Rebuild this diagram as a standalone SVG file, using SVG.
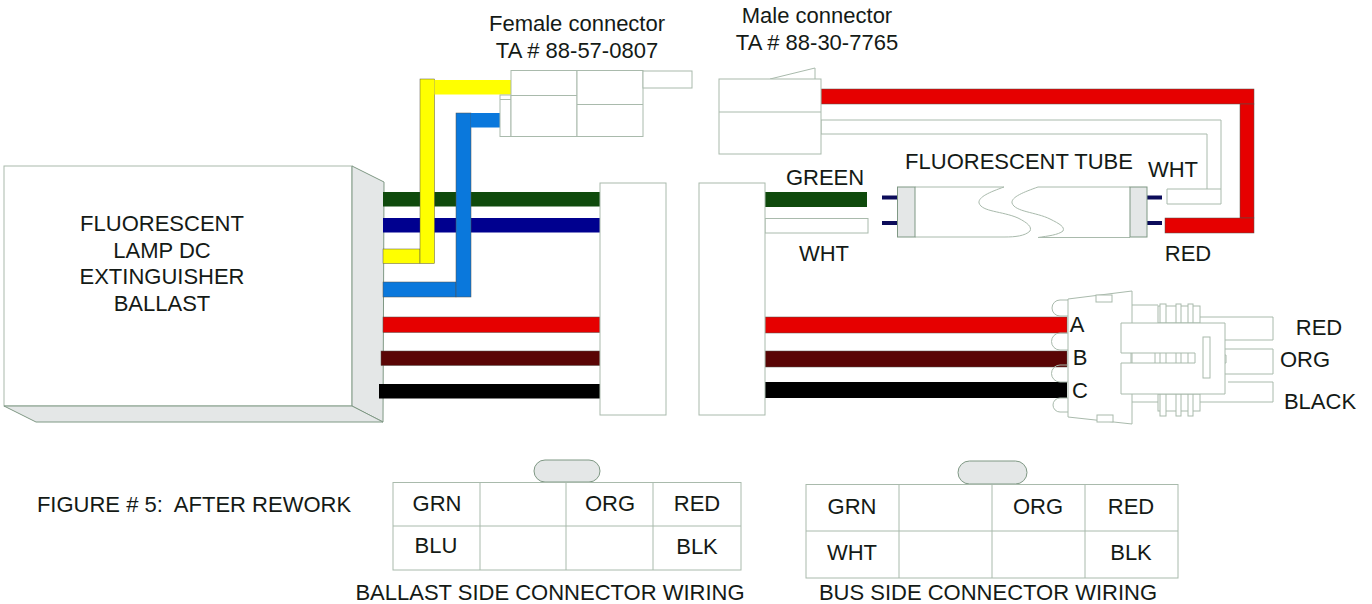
<svg xmlns="http://www.w3.org/2000/svg" width="1372" height="604" viewBox="0 0 1372 604">
<style>
text{font-family:"Liberation Sans",Arial,sans-serif;font-size:22px;fill:#141a16;text-anchor:middle;white-space:pre}
.o{fill:#fff;stroke:#a9baac;stroke-width:1}
.n{fill:none;stroke:#a9baac;stroke-width:1}
.g{fill:#e4e7e7;stroke:#7f9884;stroke-width:1}
.w{stroke:#55504a;stroke-width:.5}
.gn{fill:#0f4a0c}.bl{fill:#00008f}.ye{fill:#ffff00}.lb{fill:#0a78dc}.rd{fill:#e60000}.br{fill:#5a0505}.bk{fill:#000}
.pin{fill:#0c0c5a}
</style>
<rect width="1372" height="604" fill="#fff"/>
<g id="ballast">
<rect class="o" x="4" y="166" width="348" height="240"/>
<polygon class="g" points="352,166 384,182 383,422 352,406"/>
<polygon class="g" points="4,406 352,406 383,422 36,422"/>
<text x="162" y="231">FLUORESCENT</text>
<text x="162" y="258">LAMP DC</text>
<text x="162" y="284">EXTINGUISHER</text>
<text x="162" y="311">BALLAST</text>
</g>
<g id="connectors">
<rect class="gn" x="383" y="192" width="217" height="14.500"/>
<rect class="bl" x="383" y="218" width="217" height="14.500"/>
<rect class="rd w" x="383" y="317" width="217" height="15.500"/>
<rect class="br w" x="381" y="351" width="219" height="14.500"/>
<rect class="bk" x="379" y="384" width="221" height="14.500"/>
<rect class="ye w" x="383" y="249" width="37" height="14.500"/>
<rect class="ye w" x="420" y="79" width="14.500" height="184.500"/>
<rect class="ye" x="434.500" y="80" width="76.500" height="14.500"/>
<rect class="lb w" x="383" y="282" width="73" height="15"/>
<rect class="lb w" x="456" y="113" width="15" height="184"/>
<rect class="lb" x="471" y="113" width="40" height="14.500"/>
<rect class="rd w" x="821" y="89" width="433" height="15"/>
<rect class="rd w" x="1240" y="104" width="14" height="114"/>
<rect class="rd w" x="1165" y="218" width="89" height="15"/>
<path class="o" d="M821 120H1221V204H1167V189H1207V134H821Z"/>
<path class="n" d="M1207 189H1221"/>
<rect class="gn" x="765" y="192" width="102" height="15"/>
<rect class="o" x="765" y="218.500" width="103" height="14.500"/>
<rect class="rd w" x="765" y="317" width="302" height="16"/>
<rect class="br w" x="765" y="351" width="302" height="16"/>
<rect class="bk" x="765" y="382" width="302" height="16"/>
</g>
<g id="female-connector">
<rect class="o" x="500" y="95" width="11" height="41.500"/>
<path class="n" d="M500 99.500H511"/>
<rect class="o" x="511" y="70.500" width="66" height="66"/>
<path class="n" d="M511 95.500H577"/>
<rect class="o" x="577" y="70.500" width="66" height="66"/>
<path class="n" d="M577 104.500H643"/>
<rect class="o" x="643" y="71" width="49" height="17"/>
<text x="577" y="31">Female connector</text>
<text x="577" y="58">TA # 88-57-0807</text>
</g>
<g id="male-connector">
<path class="n" d="M770 79L815 68V79"/>
<rect class="o" x="719" y="79" width="102" height="75"/>
<path class="n" d="M719 112H821"/>
<text x="817" y="23">Male connector</text>
<text x="817" y="50">TA # 88-30-7765</text>
</g>
<g id="splice-left"><rect class="o" x="600" y="183" width="66" height="232"/></g>
<g id="splice-right"><rect class="o" x="699" y="183" width="66" height="232"/></g>
<g id="tube">
<rect class="pin" x="882" y="195.500" width="15" height="4"/>
<rect class="pin" x="882" y="221" width="15" height="4"/>
<rect class="pin" x="1147" y="195.500" width="15" height="4"/>
<rect class="pin" x="1147" y="221" width="15" height="4"/>
<path class="n" d="M915 187H1004C990 192 978 197 979 203C982 212 1002 211 1018 218C1028 223 1032 227 1030 231C1025 236 1015 237 1005 237H915"/>
<path class="n" d="M1130 187H1038C1024 192 1011 197 1012 203C1015 212 1036 212 1050 219C1060 224 1065 227 1063 231C1058 235 1048 236 1038 237.500H1130"/>
<rect class="g" x="897.500" y="187" width="17.500" height="50"/>
<rect class="g" x="1130" y="187" width="17" height="50"/>
<text x="1019" y="169">FLUORESCENT TUBE</text>
<text x="825" y="185">GREEN</text>
<text x="824" y="261">WHT</text>
<text x="1173" y="177">WHT</text>
<text x="1188" y="261">RED</text>
</g>
<g id="plug">
<path class="n" d="M1068 300H1060A8 8 0 0 0 1060 316H1068M1068 333H1060A8.500 8.500 0 0 0 1060 350H1068M1068 365H1060A8.500 8.500 0 0 0 1060 382H1068M1068 398H1060A7 7 0 0 0 1060 412H1068"/>
<polygon class="o" points="1068,299 1132,291 1132,424 1068,417"/>
<rect class="o" x="1096" y="295" width="16" height="7"/>
<rect class="o" x="1097" y="415" width="16" height="7"/>
<path class="n" d="M1132 305H1158M1132 402H1158M1200 317H1273V340H1225M1225 349H1273V374H1225M1228 382H1273V402H1200"/>
<rect class="o" x="1158" y="306" width="42" height="17"/>
<rect class="o" x="1160" y="304" width="6" height="19"/>
<rect class="o" x="1176" y="304" width="5" height="19"/>
<rect class="o" x="1188" y="304" width="5" height="19"/>
<rect class="o" x="1158" y="394" width="42" height="17"/>
<rect class="o" x="1160" y="394" width="6" height="22"/>
<rect class="o" x="1176" y="394" width="5" height="22"/>
<rect class="o" x="1188" y="394" width="5" height="22"/>
<path class="o" d="M1121 323H1225V394H1121V363H1195V353H1121Z"/>
<path class="n" d="M1131 353V363M1155 353V363M1160 353V363M1166 353V363M1176 353V363M1181 353V363M1188 353V363"/>
<rect class="o" x="1203" y="337" width="7" height="41"/>
<path class="n" d="M1225 355H1226V363H1225"/>
<text x="1077" y="332">A</text>
<text x="1080" y="365">B</text>
<text x="1080" y="398">C</text>
<text x="1319" y="335">RED</text>
<text x="1305" y="367">ORG</text>
<text x="1320" y="409">BLACK</text>
</g>
<text x="194" y="512">FIGURE # 5:  AFTER REWORK</text>
<g id="ballast-table">
<rect class="g" x="534" y="460" width="66" height="22" rx="11"/>
<rect class="o" x="393" y="482.500" width="348" height="87.500"/>
<path class="n" d="M480 482.500V570M566 482.500V570M653 482.500V570M393 526H741"/>
<text x="437" y="511">GRN</text>
<text x="610" y="511">ORG</text>
<text x="697" y="511">RED</text>
<text x="436" y="553">BLU</text>
<text x="697" y="554">BLK</text>
<text x="550" y="600">BALLAST SIDE CONNECTOR WIRING</text>
</g>
<g id="bus-table">
<rect class="g" x="958" y="461" width="69" height="23" rx="11.500"/>
<rect class="o" x="806" y="484.500" width="372" height="93.500"/>
<path class="n" d="M899 484.500V578M992 484.500V578M1085 484.500V578M806 531H1178"/>
<text x="852" y="514">GRN</text>
<text x="1038" y="514">ORG</text>
<text x="1131" y="514">RED</text>
<text x="852" y="560">WHT</text>
<text x="1131" y="560">BLK</text>
<text x="988" y="600">BUS SIDE CONNECTOR WIRING</text>
</g>
</svg>
